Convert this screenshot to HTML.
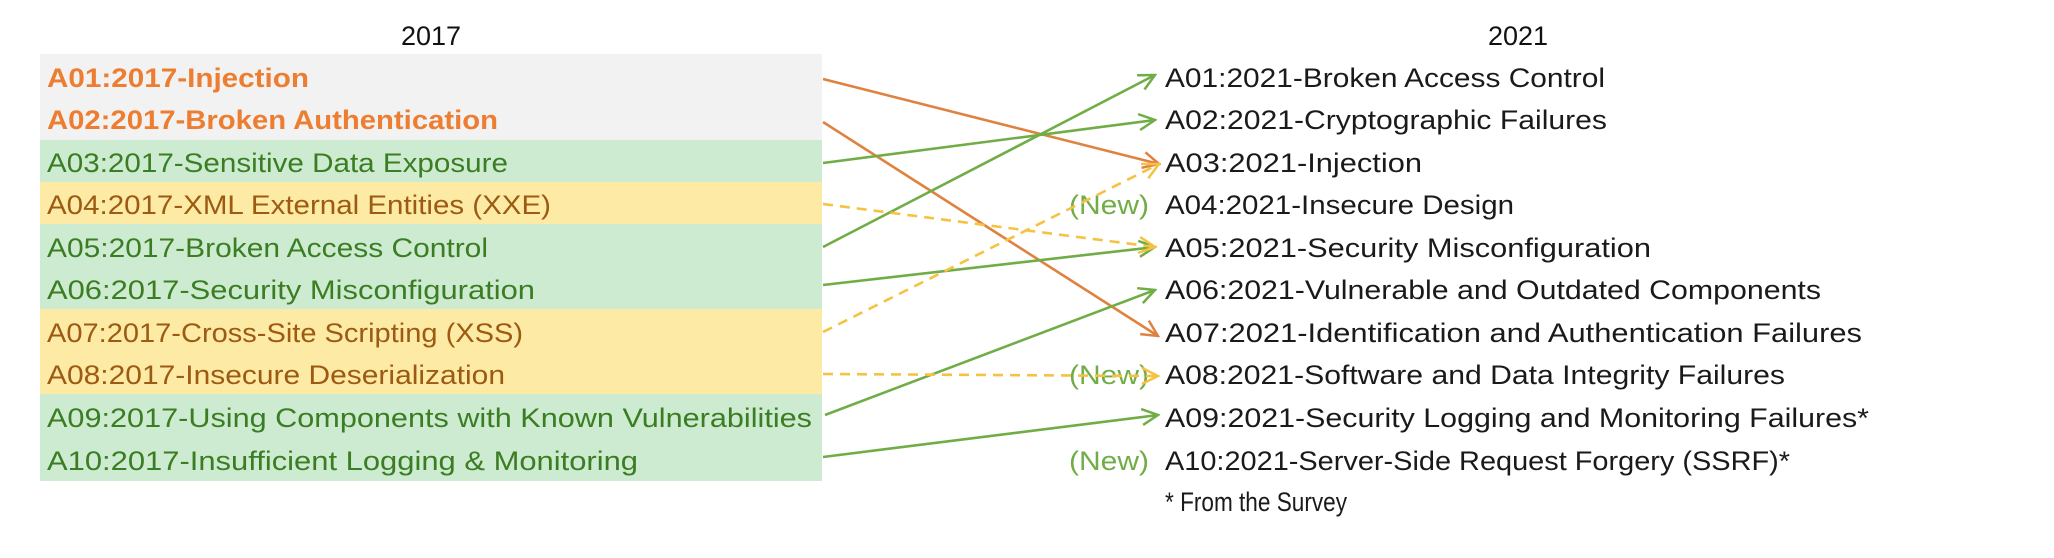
<!DOCTYPE html>
<html><head><meta charset="utf-8"><style>
html,body{margin:0;padding:0;background:#fff;}
svg{display:block;}
text{font-family:"Liberation Sans",sans-serif;font-size:27px;}
</style></head><body>
<svg width="2054" height="558" viewBox="0 0 2054 558" xmlns="http://www.w3.org/2000/svg">
<defs>
<marker id="mg" viewBox="0 0 20 20" refX="18" refY="10" markerWidth="20" markerHeight="20" markerUnits="userSpaceOnUse" orient="auto"><polyline points="2,2 18,10 2,18" fill="none" stroke="#70ad47" stroke-width="2.5"/></marker>
<marker id="mo" viewBox="0 0 20 20" refX="18" refY="10" markerWidth="20" markerHeight="20" markerUnits="userSpaceOnUse" orient="auto"><polyline points="2,2 18,10 2,18" fill="none" stroke="#e0823f" stroke-width="2.5"/></marker>
<marker id="my" viewBox="0 0 20 20" refX="18" refY="10" markerWidth="20" markerHeight="20" markerUnits="userSpaceOnUse" orient="auto"><polyline points="2,2 18,10 2,18" fill="none" stroke="#f5c242" stroke-width="2.5"/></marker>
</defs>
<rect x="40" y="54" width="782" height="86" fill="#f2f2f2"/>
<rect x="40" y="140" width="782" height="42" fill="#cdebd0"/>
<rect x="40" y="182" width="782" height="42" fill="#fdeaa5"/>
<rect x="40" y="224" width="782" height="85" fill="#cdebd0"/>
<rect x="40" y="309" width="782" height="85" fill="#fdeaa5"/>
<rect x="40" y="394" width="782" height="87" fill="#cdebd0"/>
<text x="431" y="45" text-anchor="middle" fill="#111" font-size="27">2017</text>
<text x="1518" y="45" text-anchor="middle" fill="#111" font-size="27">2021</text>
<g font-weight="bold" fill="#ed7d31">
<text x="47" y="87" textLength="262" lengthAdjust="spacingAndGlyphs">A01:2017-Injection</text>
<text x="47" y="129" textLength="451" lengthAdjust="spacingAndGlyphs">A02:2017-Broken Authentication</text>
</g>
<g fill="#3b7d23">
<text x="47" y="172" textLength="461" lengthAdjust="spacingAndGlyphs">A03:2017-Sensitive Data Exposure</text>
<text x="47" y="257" textLength="441" lengthAdjust="spacingAndGlyphs">A05:2017-Broken Access Control</text>
<text x="47" y="299" textLength="488" lengthAdjust="spacingAndGlyphs">A06:2017-Security Misconfiguration</text>
<text x="47" y="427" textLength="765" lengthAdjust="spacingAndGlyphs">A09:2017-Using Components with Known Vulnerabilities</text>
<text x="47" y="470" textLength="591" lengthAdjust="spacingAndGlyphs">A10:2017-Insufficient Logging &amp; Monitoring</text>
</g>
<g fill="#9c5a12">
<text x="47" y="214" textLength="504" lengthAdjust="spacingAndGlyphs">A04:2017-XML External Entities (XXE)</text>
<text x="47" y="342" textLength="476" lengthAdjust="spacingAndGlyphs">A07:2017-Cross-Site Scripting (XSS)</text>
<text x="47" y="384" textLength="458" lengthAdjust="spacingAndGlyphs">A08:2017-Insecure Deserialization</text>
</g>
<g fill="#1a1a1a">
<text x="1165" y="87" textLength="440" lengthAdjust="spacingAndGlyphs">A01:2021-Broken Access Control</text>
<text x="1165" y="129" textLength="442" lengthAdjust="spacingAndGlyphs">A02:2021-Cryptographic Failures</text>
<text x="1165" y="172" textLength="257" lengthAdjust="spacingAndGlyphs">A03:2021-Injection</text>
<text x="1165" y="214" textLength="349" lengthAdjust="spacingAndGlyphs">A04:2021-Insecure Design</text>
<text x="1165" y="257" textLength="486" lengthAdjust="spacingAndGlyphs">A05:2021-Security Misconfiguration</text>
<text x="1165" y="299" textLength="656" lengthAdjust="spacingAndGlyphs">A06:2021-Vulnerable and Outdated Components</text>
<text x="1165" y="342" textLength="697" lengthAdjust="spacingAndGlyphs">A07:2021-Identification and Authentication Failures</text>
<text x="1165" y="384" textLength="620" lengthAdjust="spacingAndGlyphs">A08:2021-Software and Data Integrity Failures</text>
<text x="1165" y="427" textLength="704" lengthAdjust="spacingAndGlyphs">A09:2021-Security Logging and Monitoring Failures*</text>
<text x="1165" y="470" textLength="625" lengthAdjust="spacingAndGlyphs">A10:2021-Server-Side Request Forgery (SSRF)*</text>
<text x="1165" y="511" font-size="19" textLength="182" lengthAdjust="spacingAndGlyphs">* From the Survey</text>
</g>
<g fill="#70ad47">
<text x="1069" y="214" textLength="80" lengthAdjust="spacingAndGlyphs">(New)</text>
<text x="1069" y="384" textLength="80" lengthAdjust="spacingAndGlyphs">(New)</text>
<text x="1069" y="470" textLength="80" lengthAdjust="spacingAndGlyphs">(New)</text>
</g>
<g fill="none" stroke-width="2.6">
<line x1="823" y1="79" x2="1159" y2="164" stroke="#e0823f" marker-end="url(#mo)"/>
<line x1="823" y1="122" x2="1158" y2="336" stroke="#e0823f" marker-end="url(#mo)"/>
<line x1="823" y1="163" x2="1155" y2="120" stroke="#70ad47" marker-end="url(#mg)"/>
<line x1="823" y1="247" x2="1155" y2="75" stroke="#70ad47" marker-end="url(#mg)"/>
<line x1="823" y1="285" x2="1155" y2="247" stroke="#70ad47" marker-end="url(#mg)"/>
<line x1="825" y1="415" x2="1155" y2="290" stroke="#70ad47" marker-end="url(#mg)"/>
<line x1="823" y1="457" x2="1158" y2="415" stroke="#70ad47" marker-end="url(#mg)"/>
<line x1="823" y1="204" x2="1155" y2="247" stroke="#f5c242" stroke-dasharray="10,7" marker-end="url(#my)"/>
<line x1="823" y1="332" x2="1159" y2="164" stroke="#f5c242" stroke-dasharray="10,7" marker-end="url(#my)"/>
<line x1="823" y1="374" x2="1158" y2="376" stroke="#f5c242" stroke-dasharray="10,7" marker-end="url(#my)"/>
</g>
</svg>
</body></html>
